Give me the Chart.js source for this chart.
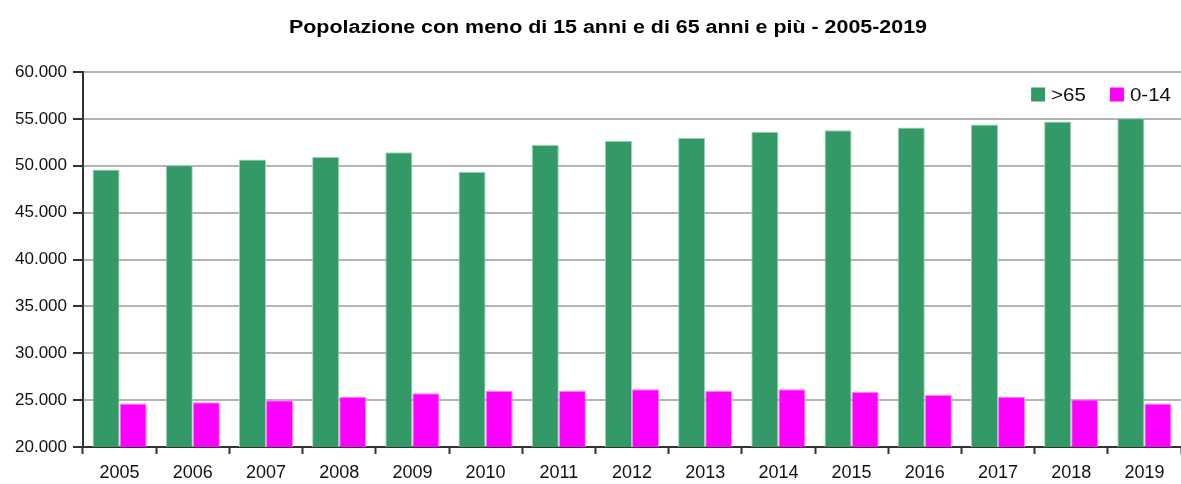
<!DOCTYPE html>
<html lang="it">
<head>
<meta charset="utf-8">
<title>Popolazione con meno di 15 anni e di 65 anni e più - 2005-2019</title>
<script src="https://cdn.jsdelivr.net/npm/chart.js@4.4.1/dist/chart.umd.min.js"></script>
<style>
    html, body { margin: 0; padding: 0; background: #ffffff; }
    #wrap { width: 1181px; height: 484px; position: relative; }
</style>
</head>
<body>
<div id="wrap"><canvas id="popChart"></canvas></div>
<script>
// Dati
const anni = ['2005', '2006', '2007', '2008', '2009', '2010', '2011', '2012', '2013', '2014', '2015', '2016', '2017', '2018', '2019'];
const over65 = [49590, 50060, 50660, 50930, 51430, 49370, 52210, 52680, 53000, 53640, 53780, 54070, 54390, 54710, 55060];
const under15 = [24630, 24770, 24980, 25370, 25730, 26010, 26010, 26150, 26010, 26150, 25870, 25550, 25370, 25060, 24630];
const yTicks = [20000, 25000, 30000, 35000, 40000, 45000, 50000, 55000, 60000];

const titolo = 'Popolazione con meno di 15 anni e di 65 anni e più - 2005-2019';
const FONT = 'Liberation Sans, Arial, sans-serif';

// Separatore delle migliaia all'italiana
function formatIt(v) {
    return String(v).replace(/\B(?=(\d{3})+(?!\d))/g, '.');
}

// Titolo (un po' allargato come nell'originale) e legenda dentro l'area del grafico
const titoloELegenda = {
    id: 'titoloELegenda',
    afterDraw(chart) {
        const c = chart.ctx;
        const area = chart.chartArea;

        // titolo
        c.save();
        c.font = 'bold 18px ' + FONT;
        c.fillStyle = '#000000';
        c.textAlign = 'center';
        c.textBaseline = 'alphabetic';
        c.translate(608, 33);
        c.scale(1.19, 1);
        c.fillText(titolo, 0, 0);
        c.restore();

        // legenda, allineata a destra
        const sx = 1.08;
        c.save();
        c.font = '19px ' + FONT;
        const items = chart.data.datasets.map(ds => ({
            text: ds.label,
            color: ds.backgroundColor,
            w: c.measureText(ds.label).width * sx
        }));
        const box = 14, gapBox = 6, gapItem = 24;
        let total = 0;
        items.forEach((it, i) => {
            total += box + gapBox + it.w + (i > 0 ? gapItem : 0);
        });
        let x = area.right - 10 - total;
        const yTop = 87.5;
        items.forEach((it, i) => {
            if (i > 0) x += gapItem;
            c.fillStyle = it.color;
            c.fillRect(x, yTop, box, box);
            x += box + gapBox;
            c.save();
            c.fillStyle = '#111111';
            c.textAlign = 'left';
            c.textBaseline = 'alphabetic';
            c.translate(x, yTop + 13.5);
            c.scale(sx, 1);
            c.fillText(it.text, 0, 0);
            c.restore();
            x += it.w;
        });
        c.restore();
    }
};

const ctx = document.getElementById('popChart').getContext('2d');

const myChart = new Chart(ctx, {
    type: 'bar',
    data: {
        labels: anni,
        datasets: [
            {
                label: '>65',
                data: over65,
                backgroundColor: '#339966',
                borderColor: '#9fd3b5',
                borderWidth: 1,
                categoryPercentage: 0.74,
                barPercentage: 1.0
            },
            {
                label: '0-14',
                data: under15,
                backgroundColor: '#ff00ff',
                borderColor: '#ff80ff',
                borderWidth: 1,
                categoryPercentage: 0.74,
                barPercentage: 1.0
            }
        ]
    },
    options: {
        responsive: true,
        maintainAspectRatio: false,
        animation: false,
        layout: {
            padding: { left: 0, right: 0, top: 72, bottom: 0 }
        },
        plugins: {
            title: { display: false },
            legend: { display: false },
            tooltip: { enabled: false }
        },
        scales: {
            x: {
                grid: {
                    display: true,
                    drawOnChartArea: false,
                    drawTicks: true,
                    tickLength: 7,
                    tickColor: '#333333',
                    tickWidth: 2,
                    offset: true
                },
                border: { display: true, color: '#333333', width: 2 },
                ticks: {
                    color: '#111111',
                    padding: 8,
                    font: { family: FONT, size: 18 },
                    maxRotation: 0
                },
                afterFit: function (scale) {
                    scale.height = 37;
                }
            },
            y: {
                min: 20000,
                max: 60000,
                afterBuildTicks: function (scale) {
                    scale.ticks = yTicks.map(v => ({ value: v }));
                },
                grid: {
                    color: '#b4b4b4',
                    lineWidth: 2,
                    tickColor: '#333333',
                    tickLength: 10,
                    tickWidth: 2
                },
                border: { display: true, color: '#333333', width: 2 },
                ticks: {
                    color: '#111111',
                    padding: 6,
                    font: { family: FONT, size: 17 },
                    callback: function (value) {
                        return formatIt(value);
                    }
                },
                afterFit: function (scale) {
                    scale.width = 83;
                }
            }
        }
    },
    plugins: [titoloELegenda]
});
</script>
</body>
</html>
